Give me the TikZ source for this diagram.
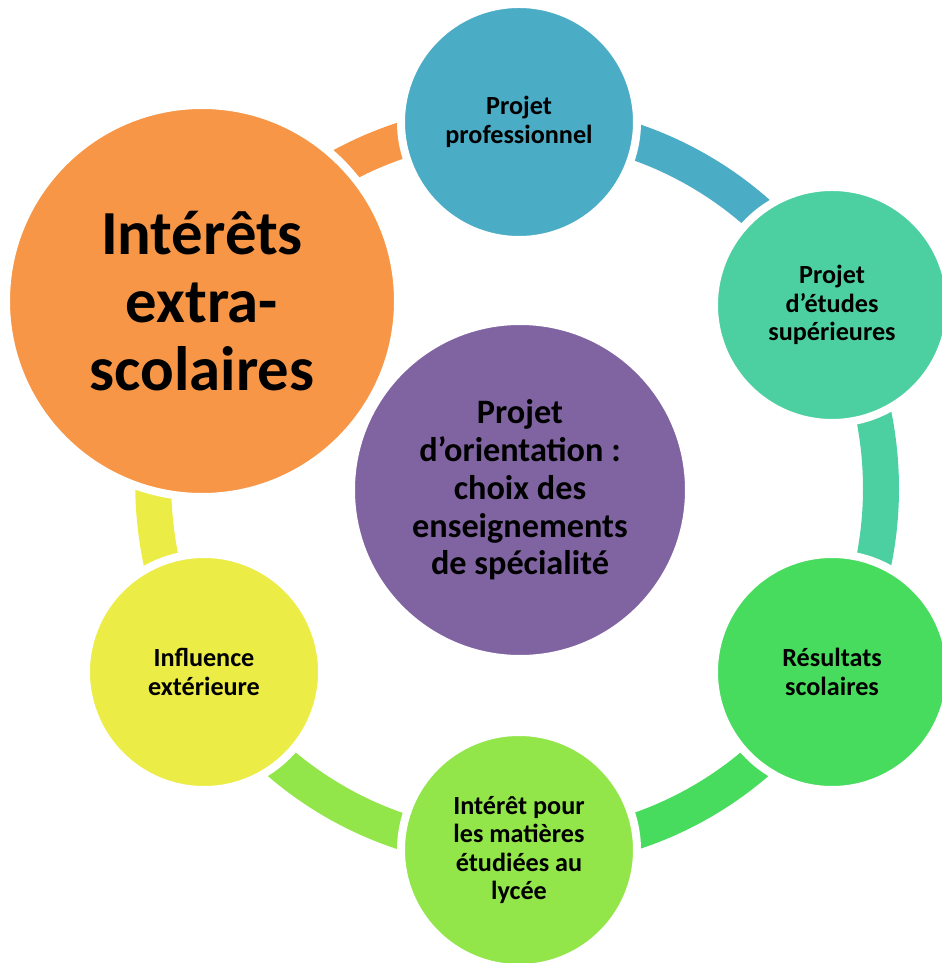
\documentclass[tikz,border=0pt]{standalone}
\usepackage{fontspec}
\setmainfont{Carlito}
\usetikzlibrary{backgrounds}

\definecolor{cBleu}{HTML}{4BACC6}
\definecolor{cTurquoise}{HTML}{4DD0A1}
\definecolor{cVert}{HTML}{48DC5E}
\definecolor{cVertClair}{HTML}{92E64A}
\definecolor{cJaune}{HTML}{ECEC46}
\definecolor{cOrange}{HTML}{F79646}
\definecolor{cViolet}{HTML}{8064A2}

\begin{document}
\begin{tikzpicture}[
  bulle/.style={circle,draw=white,line width=0.16cm,inner sep=0pt,align=center,
    text=black,minimum size=4.72cm,font=\bfseries\fontsize{14.9}{16.2}\selectfont},
  anneau/.style={line width=0.72cm,bend left=30,looseness=0.913}]
\useasboundingbox (-10.38,-9.52) rectangle (8.44,9.74);

% les bulles autour
\node[bulle,fill=cBleu] (pro) at (0,7.3) {Projet\\professionnel};
\node[bulle,fill=cTurquoise] (etu) at (6.26,3.64) {Projet\\d’études\\supérieures};
\node[bulle,fill=cVert] (res) at (6.26,-3.7) {Résultats\\scolaires};
\node[bulle,fill=cVertClair] (lyc) at (0,-7.26) {Intérêt pour\\les matières\\étudiées au\\lycée};
\node[bulle,fill=cJaune] (inf) at (-6.3,-3.7) {Influence\\extérieure};
\node[bulle,fill=cOrange,minimum size=7.84cm,
  font=\bfseries\fontsize{35.7}{38.6}\selectfont] (ext) at (-6.34,3.72) {Intérêts\\extra-\\scolaires};

% la bulle du centre
\node[bulle,fill=cViolet,minimum size=6.76cm,
  font=\bfseries\fontsize{19.5}{21.5}\selectfont] (ori) at (0.02,-0.06)
  {Projet\\d’orientation :\\choix des\\enseignements\\de spécialité};

% l'anneau
\begin{scope}[on background layer]
\draw[anneau,cBleu] (pro.center) to (etu.center);
\draw[anneau,cTurquoise] (etu.center) to (res.center);
\draw[anneau,cVert] (res.center) to (lyc.center);
\draw[anneau,cVertClair] (lyc.center) to (inf.center);
\draw[anneau,cJaune] (inf.center) to (ext.center);
\draw[anneau,cOrange] (ext.center) to (pro.center);
\end{scope}
\end{tikzpicture}
\end{document}
